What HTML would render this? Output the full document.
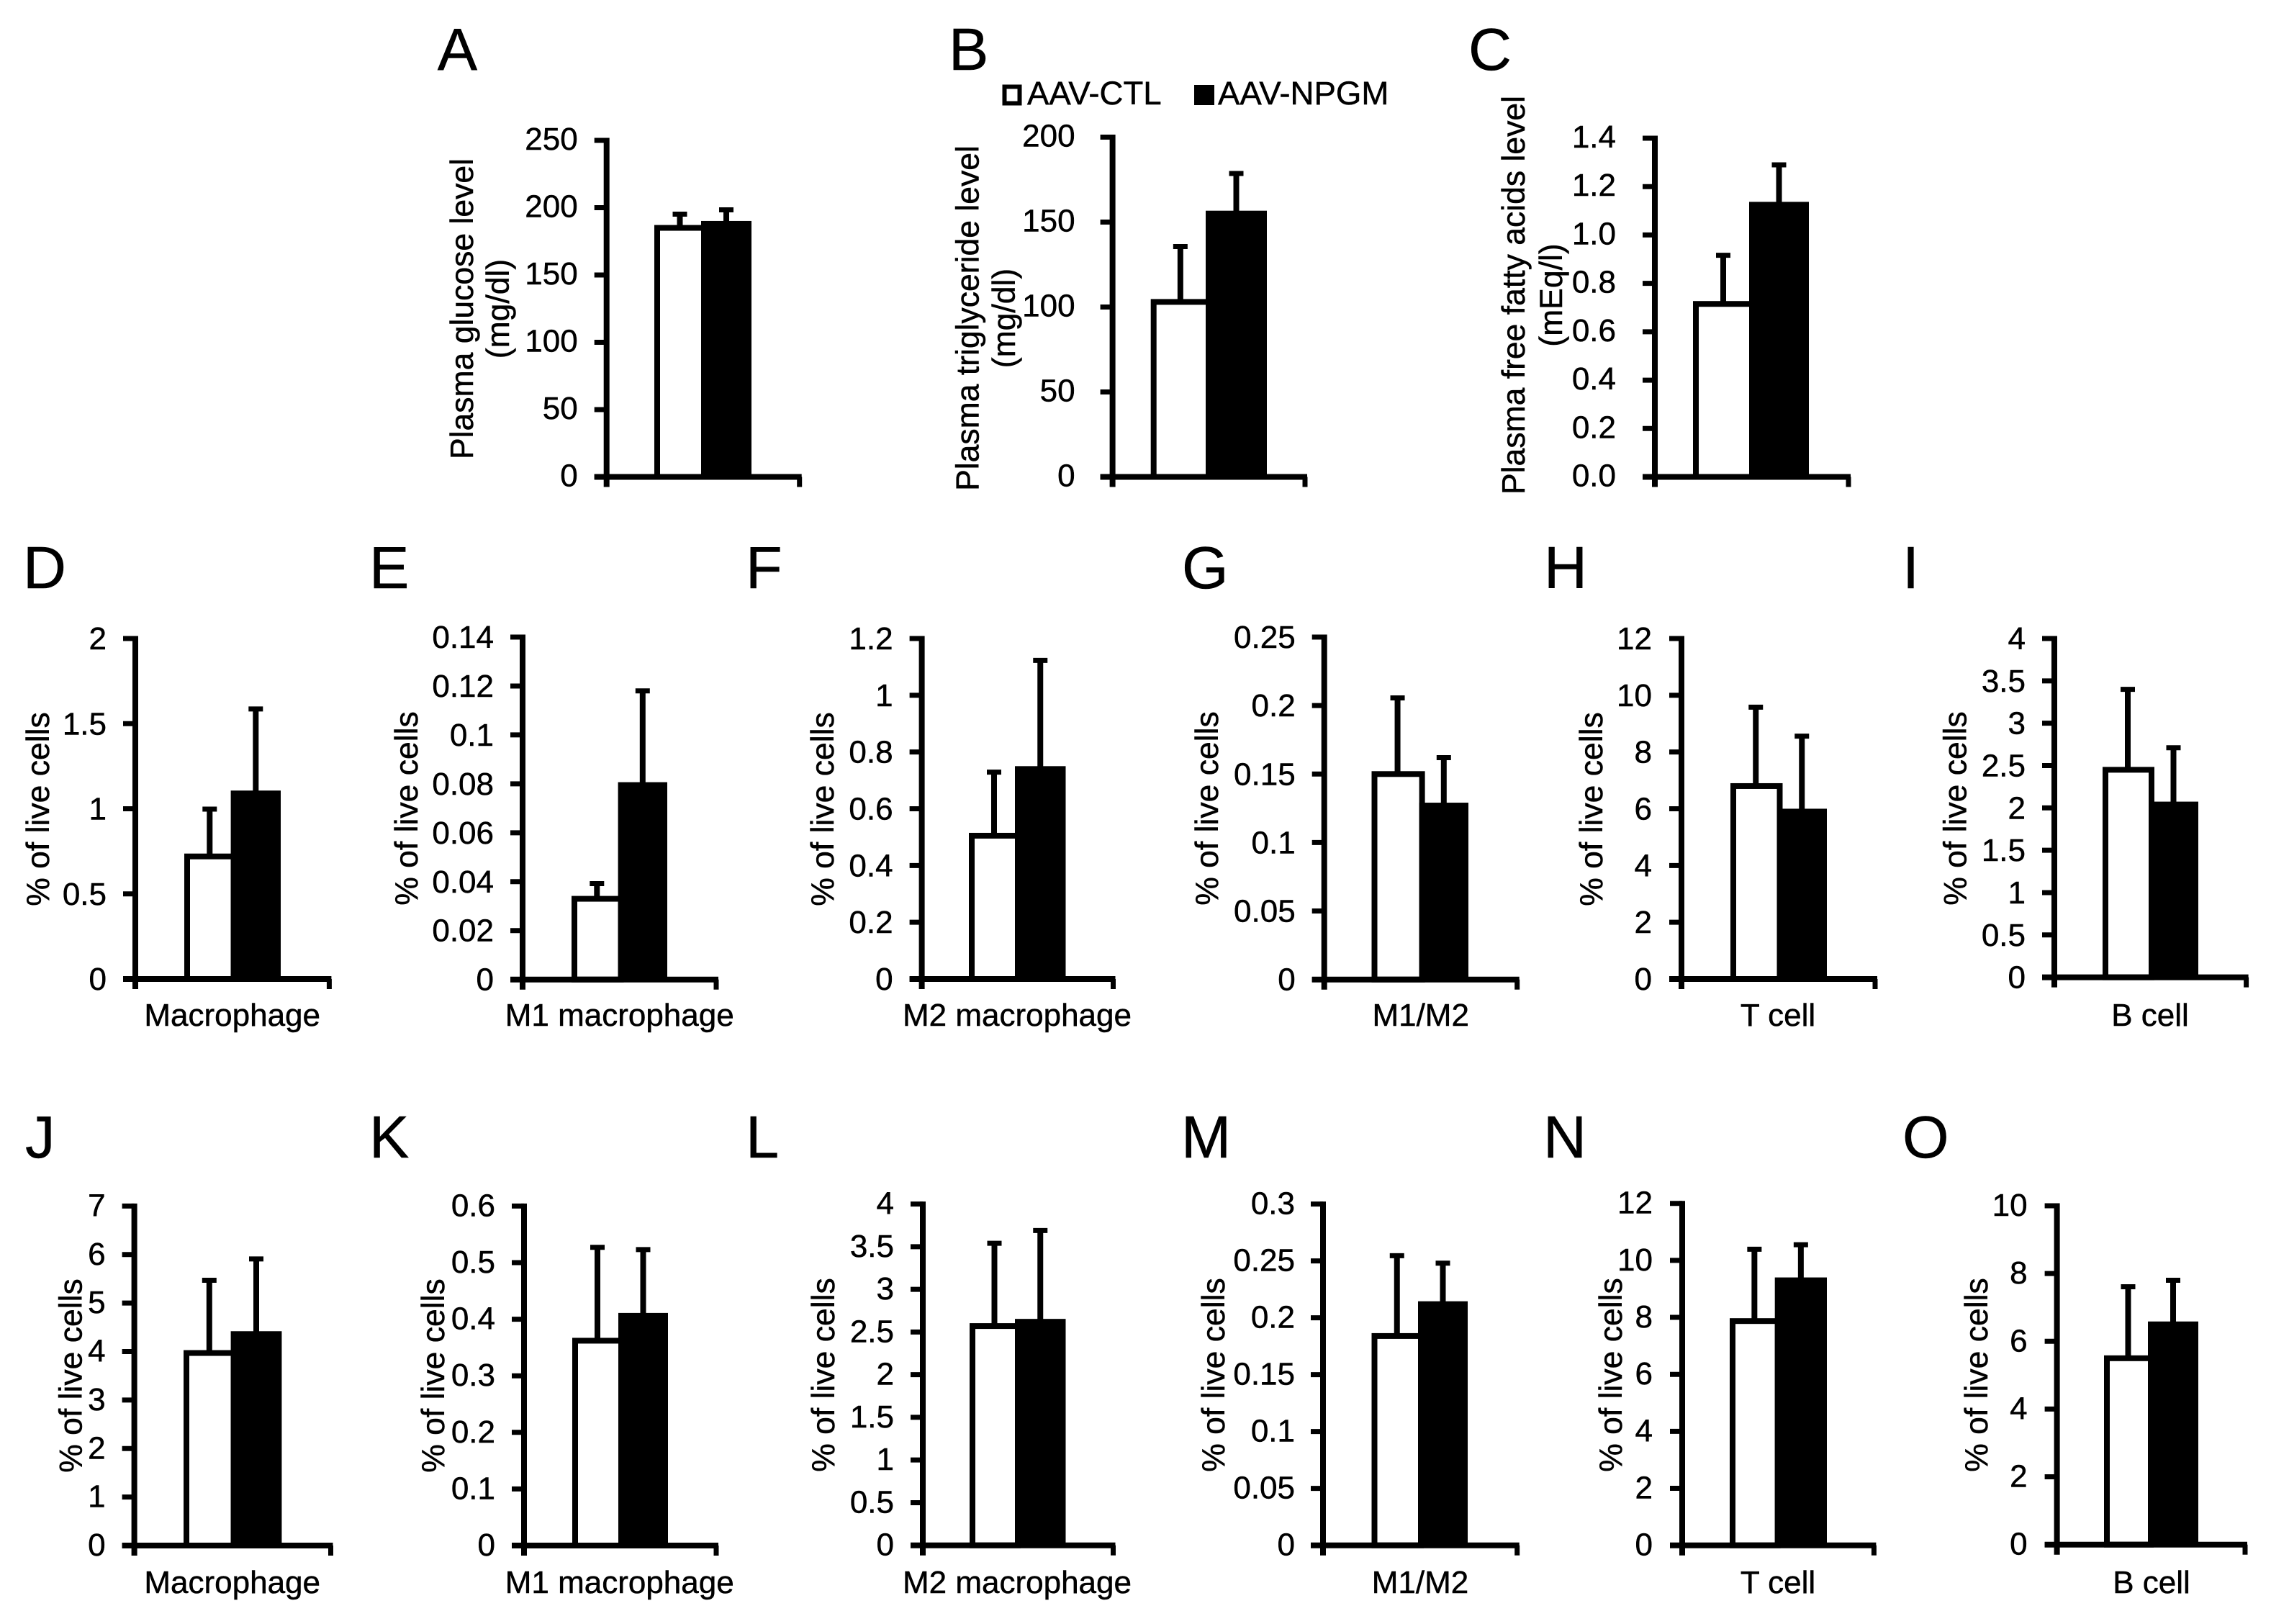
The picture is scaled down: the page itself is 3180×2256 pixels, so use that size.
<!DOCTYPE html>
<html lang="en">
<head>
<meta charset="utf-8">
<title>Plasma metabolites and immune cell fractions, AAV-CTL vs AAV-NPGM</title>
<style>
html,body{margin:0;padding:0;background:#fff;}
svg{display:block;}
text{font-family:"Liberation Sans",Arial,sans-serif;fill:#000;stroke:#000;stroke-width:0.5px;}
</style>
</head>
<body>
<svg id="figure" xmlns="http://www.w3.org/2000/svg" width="3180" height="2256" viewBox="0 0 3180 2256">
  <rect x="0" y="0" width="3180" height="2256" fill="#fff"/>
  <g>
    <rect x="1395.5" y="120.5" width="21" height="23" fill="#fff" stroke="#000" stroke-width="6"/>
    <text x="1427" y="145" font-size="45.6">AAV-CTL</text>
    <rect x="1659" y="118" width="28" height="28" fill="#000"/>
    <text x="1692" y="145" font-size="45.6">AAV-NPGM</text>
  </g>
</svg>
<script>
const panelLetters = ['A','B','C','D','E','F','G','H','I','J','K','L','M','N','O'];
const xLabels = ['','','','Macrophage','M1 macrophage','M2 macrophage','M1/M2','T cell','B cell','Macrophage','M1 macrophage','M2 macrophage','M1/M2','T cell','B cell'];
const yTitles = [
  ['Plasma glucose level','(mg/dl)'],
  ['Plasma triglyceride level','(mg/dl)'],
  ['Plasma free fatty acids level','(mEq/l)'],
  ['% of live cells'],['% of live cells'],['% of live cells'],['% of live cells'],['% of live cells'],['% of live cells'],
  ['% of live cells'],['% of live cells'],['% of live cells'],['% of live cells'],['% of live cells'],['% of live cells']
];
const tickLabels = [
  ['0','50','100','150','200','250'],
  ['0','50','100','150','200'],
  ['0.0','0.2','0.4','0.6','0.8','1.0','1.2','1.4'],
  ['0','0.5','1','1.5','2'],
  ['0','0.02','0.04','0.06','0.08','0.1','0.12','0.14'],
  ['0','0.2','0.4','0.6','0.8','1','1.2'],
  ['0','0.05','0.1','0.15','0.2','0.25'],
  ['0','2','4','6','8','10','12'],
  ['0','0.5','1','1.5','2','2.5','3','3.5','4'],
  ['0','1','2','3','4','5','6','7'],
  ['0','0.1','0.2','0.3','0.4','0.5','0.6'],
  ['0','0.5','1','1.5','2','2.5','3','3.5','4'],
  ['0','0.05','0.1','0.15','0.2','0.25','0.3'],
  ['0','2','4','6','8','10','12'],
  ['0','2','4','6','8','10']
];
const ctlMeans   = [185,103,0.715,0.72,0.033,0.505,0.15,6.8,2.45,3.97,0.362,2.57,0.184,7.87,5.5];
const ctlErrTops = [195.2,135.6,0.916,0.998,0.0392,0.729,0.2056,9.58,3.40,5.47,0.527,3.54,0.2546,10.39,7.61];
const npgmMeans  = [188,155,1.125,1.09,0.0795,0.74,0.127,5.9,2.04,4.36,0.406,2.62,0.212,9.3,6.5];
const npgmErrTops= [198.4,178.6,1.29,1.586,0.118,1.123,0.162,8.56,2.71,5.91,0.523,3.69,0.248,10.55,7.8];

/* Panel frame layout (not data): pixel frame of each small chart, in panel order. */
const frame = {
  axisX: [842.7,1545.6,2299,188,726,1280.6,1839.7,2336,2854,186.6,728,1282,1838,2337,2857.6],
  endX:  [1110.7,1813,2568,457.4,995,1546.5,2107.7,2605,3120.6,459.5,995,1546.5,2107.7,2603.4,3119],
  barL:  [909,1598.7,2352,256,794,1346,1905.5,2404,2921,255,795,1347,1905.5,2403,2923],
  barM:  [974,1675,2430,320.6,858.6,1410,1971.6,2468.5,2985,320.6,859,1410,1970,2465.7,2984],
  barR:  [1044,1760,2513,390,927,1480.5,2040,2538,3054,391.4,928,1480.5,2039,2538,3054],
  top:   [195,190.5,192,887,885,887,885,887,887,1675.4,1675.4,1672.6,1672.6,1671.7,1675],
  zero:  [662.5,662.5,662.5,1360,1360.7,1360,1360.7,1360,1357.6,2147,2147,2146.7,2146.7,2146.7,2145.7],
  labelGap: [40,52,54,40,40,40,40,41,40,40,40,40,39,41,41],
  labelDy: [13,13,13,15,15,15,15,15,15,14,14,14,14,14,14],
  titleX: [[656.8,707],[1359.7,1410],[2118,2170],[68],[580],[1158],[1692],[2226],[2731.5],[113.6],[617],[1159],[1701],[2253],[2761]],
  titleY: [429,442,410,1124,1123,1124,1123,1124,1123,1911,1911,1910,1910,1910,1910],
  xLabelX:[0,0,0,322.7,860.7,1413,1973.7,2470,2987,322.7,860.7,1413,1973,2470,2989],
  xLabelY:[0,0,0,1425,1425,1425,1425,1425,1425,2213,2213,2213,2213,2213,2213],
  letterX:[607.7,1318,2040,32,513,1036,1642,2145,2643,35,513,1036,1641,2144,2643],
  letterY:[97,97,97,817,817,817,817,817,817,1608,1608,1608,1608,1608,1608]
};

const NS = 'http://www.w3.org/2000/svg';
const figure = document.getElementById('figure');
function make(tag, parent, attrs, content) {
  const el = document.createElementNS(NS, tag);
  for (const k in attrs) el.setAttribute(k, attrs[k]);
  if (content !== undefined) el.textContent = content;
  parent.appendChild(el);
  return el;
}
function slug(s) { return s.toLowerCase().replace(/[^a-z0-9]+/g, '-').replace(/^-|-$/g, ''); }

panelLetters.forEach(function (letter, i) {
  const id = letter.toLowerCase();
  const labels = tickLabels[i];
  const yMax = parseFloat(labels[labels.length - 1]);
  const top = frame.top[i], zero = frame.zero[i];
  const axisX = frame.axisX[i], endX = frame.endX[i];
  const yScale = function (v) { return zero - (v / yMax) * (zero - top); };

  const g = make('g', figure, {});
  
  

  const letterEl = make('text', g, {x: frame.letterX[i], y: frame.letterY[i], 'font-size': 83}, letter);
  
  

  yTitles[i].forEach(function (line, j) {
    const tx = frame.titleX[i][j], ty = frame.titleY[i];
    const t = make('text', g, {x: tx, y: ty, 'font-size': 44.5, 'text-anchor': 'middle', transform: 'rotate(-90 ' + tx + ' ' + ty + ')'}, line);
    
    
  });

  // Error bars first so the bars sit over the stems
  const ctlC = (frame.barL[i] + frame.barM[i] + 6) / 2;
  const npgmC = (frame.barM[i] + frame.barR[i]) / 2;
  const errHalf = 10;
  const ctlErrStem = make('line', g, {x1: ctlC, x2: ctlC, y1: yScale(ctlMeans[i]), y2: yScale(ctlErrTops[i]), stroke: '#000', 'stroke-width': 8});
  
  
  const ctlErrCap = make('line', g, {x1: ctlC - errHalf, x2: ctlC + errHalf, y1: yScale(ctlErrTops[i]), y2: yScale(ctlErrTops[i]), stroke: '#000', 'stroke-width': 7});
  
  
  const npgmErrStem = make('line', g, {x1: npgmC, x2: npgmC, y1: yScale(npgmMeans[i]), y2: yScale(npgmErrTops[i]), stroke: '#000', 'stroke-width': 8});
  
  
  const npgmErrCap = make('line', g, {x1: npgmC - errHalf, x2: npgmC + errHalf, y1: yScale(npgmErrTops[i]), y2: yScale(npgmErrTops[i]), stroke: '#000', 'stroke-width': 7});
  
  

  // Bars
  const ctlTop = yScale(ctlMeans[i]);
  const ctlBar = make('rect', g, {x: frame.barL[i] + 4, y: ctlTop, width: frame.barM[i] - frame.barL[i], height: zero - ctlTop, fill: '#fff', stroke: '#000', 'stroke-width': 8});
  
  
  const npgmTop = yScale(npgmMeans[i]);
  const npgmBar = make('rect', g, {x: frame.barM[i], y: npgmTop - 4, width: frame.barR[i] - frame.barM[i], height: zero - npgmTop + 4, fill: '#000'});
  
  

  // Axes
  const yAxis = make('line', g, {x1: axisX, x2: axisX, y1: top - 3.5, y2: zero + 14, stroke: '#000', 'stroke-width': 8});
  
  
  const xAxis = make('line', g, {x1: axisX - 17, x2: endX + 3, y1: zero, y2: zero, stroke: '#000', 'stroke-width': 8});
  
  
  const endTick = make('line', g, {x1: endX, x2: endX, y1: zero, y2: zero + 14, stroke: '#000', 'stroke-width': 7});
  
  

  labels.forEach(function (lab) {
    const ty = yScale(parseFloat(lab));
    const tick = make('line', g, {x1: axisX - 17, x2: axisX, y1: ty, y2: ty, stroke: '#000', 'stroke-width': 7});
    
    
    const tl = make('text', g, {x: axisX - frame.labelGap[i], y: ty + frame.labelDy[i], 'font-size': 44, 'text-anchor': 'end'}, lab);
    
    
  });

  if (xLabels[i]) {
    const xl = make('text', g, {x: frame.xLabelX[i], y: frame.xLabelY[i], 'font-size': 44, 'text-anchor': 'middle'}, xLabels[i]);
    
    
  }
});
</script>
</body>
</html>
